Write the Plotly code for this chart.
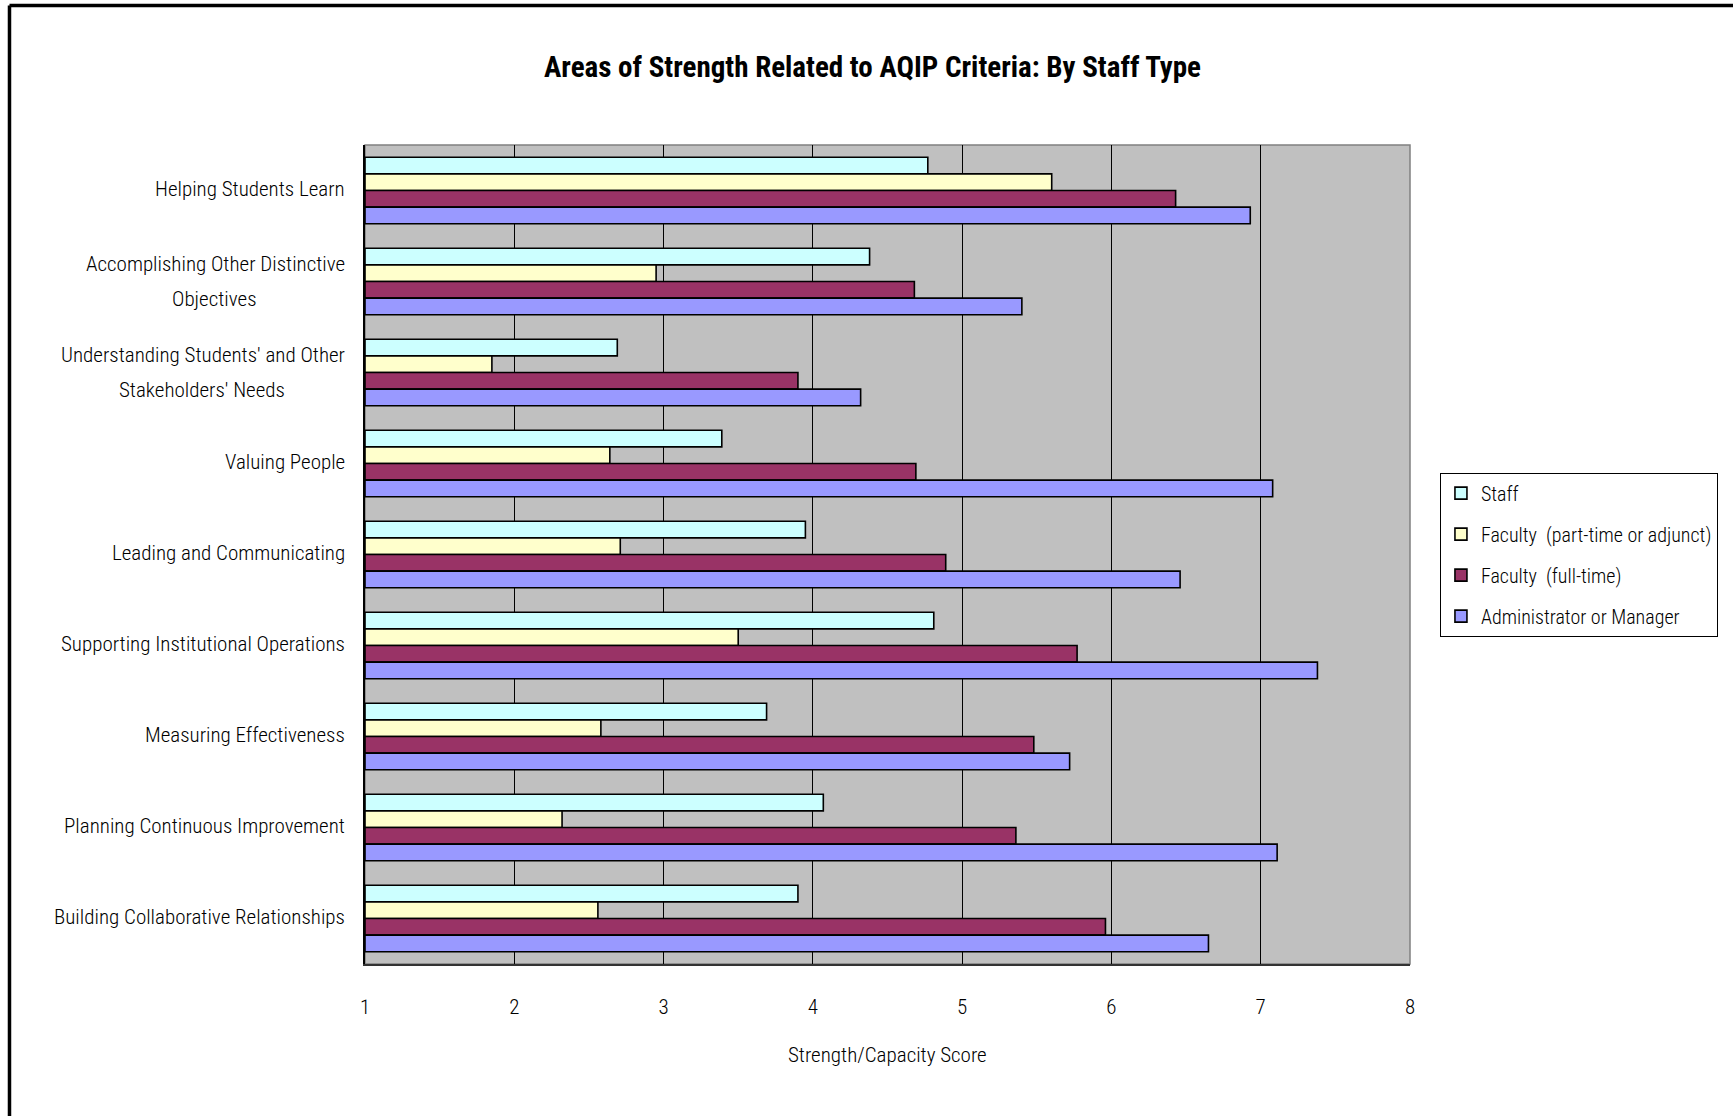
import plotly.graph_objects as go

categories = [
    "Helping Students Learn",
    "Accomplishing Other Distinctive Objectives",
    "Understanding Students' and Other Stakeholders' Needs",
    "Valuing People",
    "Leading and Communicating",
    "Supporting Institutional Operations",
    "Measuring Effectiveness",
    "Planning Continuous Improvement",
    "Building Collaborative Relationships",
]
series_names = ["Staff", "Faculty  (part-time or adjunct)", "Faculty  (full-time)", "Administrator or Manager"]
staff = [4.77, 4.38, 2.69, 3.39, 3.95, 4.81, 3.69, 4.07, 3.90]
faculty_pt = [5.60, 2.95, 1.85, 2.64, 2.71, 3.50, 2.58, 2.32, 2.56]
faculty_ft = [6.43, 4.68, 3.90, 4.69, 4.89, 5.77, 5.48, 5.36, 5.96]
admin = [6.93, 5.40, 4.32, 7.08, 6.46, 7.38, 5.72, 7.11, 6.65]
x_ticks = [1, 2, 3, 4, 5, 6, 7, 8]

colors = ["#CCFFFF", "#FFFFCC", "#993366", "#9999FF"]
FONT = "Roboto Condensed, Liberation Sans Narrow, Arial Narrow, sans-serif"

fig = go.Figure()
for name, vals, col in zip(series_names, [staff, faculty_pt, faculty_ft, admin], colors):
    fig.add_trace(go.Bar(
        y=categories, x=[v - 1 for v in vals], base=1, orientation="h", name=name,
        marker=dict(color=col, line=dict(color="black", width=1.6)),
        legendgroup=name,
    ))

# category labels (wrapped like the original)
wrap = {
    "Accomplishing Other Distinctive Objectives": ("Accomplishing Other Distinctive", "Objectives", 266),
    "Understanding Students' and Other Stakeholders' Needs": ("Understanding Students' and Other", "Stakeholders' Needs", 291),
}
lab_font = dict(family=FONT, size=21, color="black", weight=300)
annotations = []
for c in categories:
    if c in wrap:
        l1, l2, w = wrap[c]
        annotations.append(dict(text=l1, x=0, xref="paper", y=c, yref="y", xanchor="right",
                                yanchor="middle", xshift=-18, yshift=18, showarrow=False, font=lab_font))
        annotations.append(dict(text=l2, x=0, xref="paper", y=c, yref="y", xanchor="center",
                                yanchor="middle", xshift=-18 - w / 2, yshift=-17, showarrow=False,
                                font=lab_font))
    else:
        annotations.append(dict(text=c, x=0, xref="paper", y=c, yref="y", xanchor="right",
                                yanchor="middle", xshift=-18, yshift=2, showarrow=False, font=lab_font))

annotations.append(dict(text="Areas of Strength Related to AQIP Criteria: By Staff Type",
                        x=0.4861, xref="paper", y=1.0952, yref="paper", xanchor="center", yanchor="middle",
                        showarrow=False, font=dict(family=FONT, size=29, color="black", weight="bold")))
annotations.append(dict(text="Strength/Capacity Score", x=0.5, xref="paper", y=-0.111, yref="paper",
                        xanchor="center", yanchor="middle", showarrow=False, font=lab_font))

fig.update_layout(
    width=1733, height=1116,
    margin=dict(l=365, r=323, t=145, b=152),
    paper_bgcolor="white", plot_bgcolor="#C0C0C0",
    barmode="group", bargap=0.27, bargroupgap=0,
    font=dict(family=FONT, size=20, color="black"),
    xaxis=dict(range=[1, 8], tickvals=x_ticks, showgrid=True, gridcolor="black", gridwidth=1,
               zeroline=False, showline=True, linecolor="#333333", linewidth=2, mirror=False,
               ticks="", ticklabelstandoff=23, tickfont=dict(family=FONT, size=21, weight=300)),
    yaxis=dict(type="category", autorange="reversed", showticklabels=False, showgrid=False,
               zeroline=False, showline=True, linecolor="black", linewidth=1.5, ticks=""),
    legend=dict(xref="container", yref="container", x=0.8309, xanchor="left", y=0.503, yanchor="middle",
                bgcolor="white", bordercolor="black", borderwidth=1, tracegroupgap=12,
                font=dict(family=FONT, size=20, color="black", weight=300), traceorder="grouped",
                itemwidth=30),
    annotations=annotations,
    shapes=[
        dict(type="rect", xref="paper", yref="paper", x0=0, x1=1, y0=0, y1=1,
             line=dict(color="#808080", width=1.5), layer="below"),
        dict(type="line", xref="paper", yref="paper", x0=-0.3402, x1=-0.3402, y0=1.1703, y1=-0.25,
             line=dict(color="black", width=3.5)),
        dict(type="line", xref="paper", yref="paper", x0=-0.3402, x1=1.4, y0=1.1703, y1=1.1703,
             line=dict(color="black", width=3.5)),
    ],
    showlegend=True,
)

fig.write_html("out.html", config={"displayModeBar": False},
               post_script="document.body.style.margin='0';")
